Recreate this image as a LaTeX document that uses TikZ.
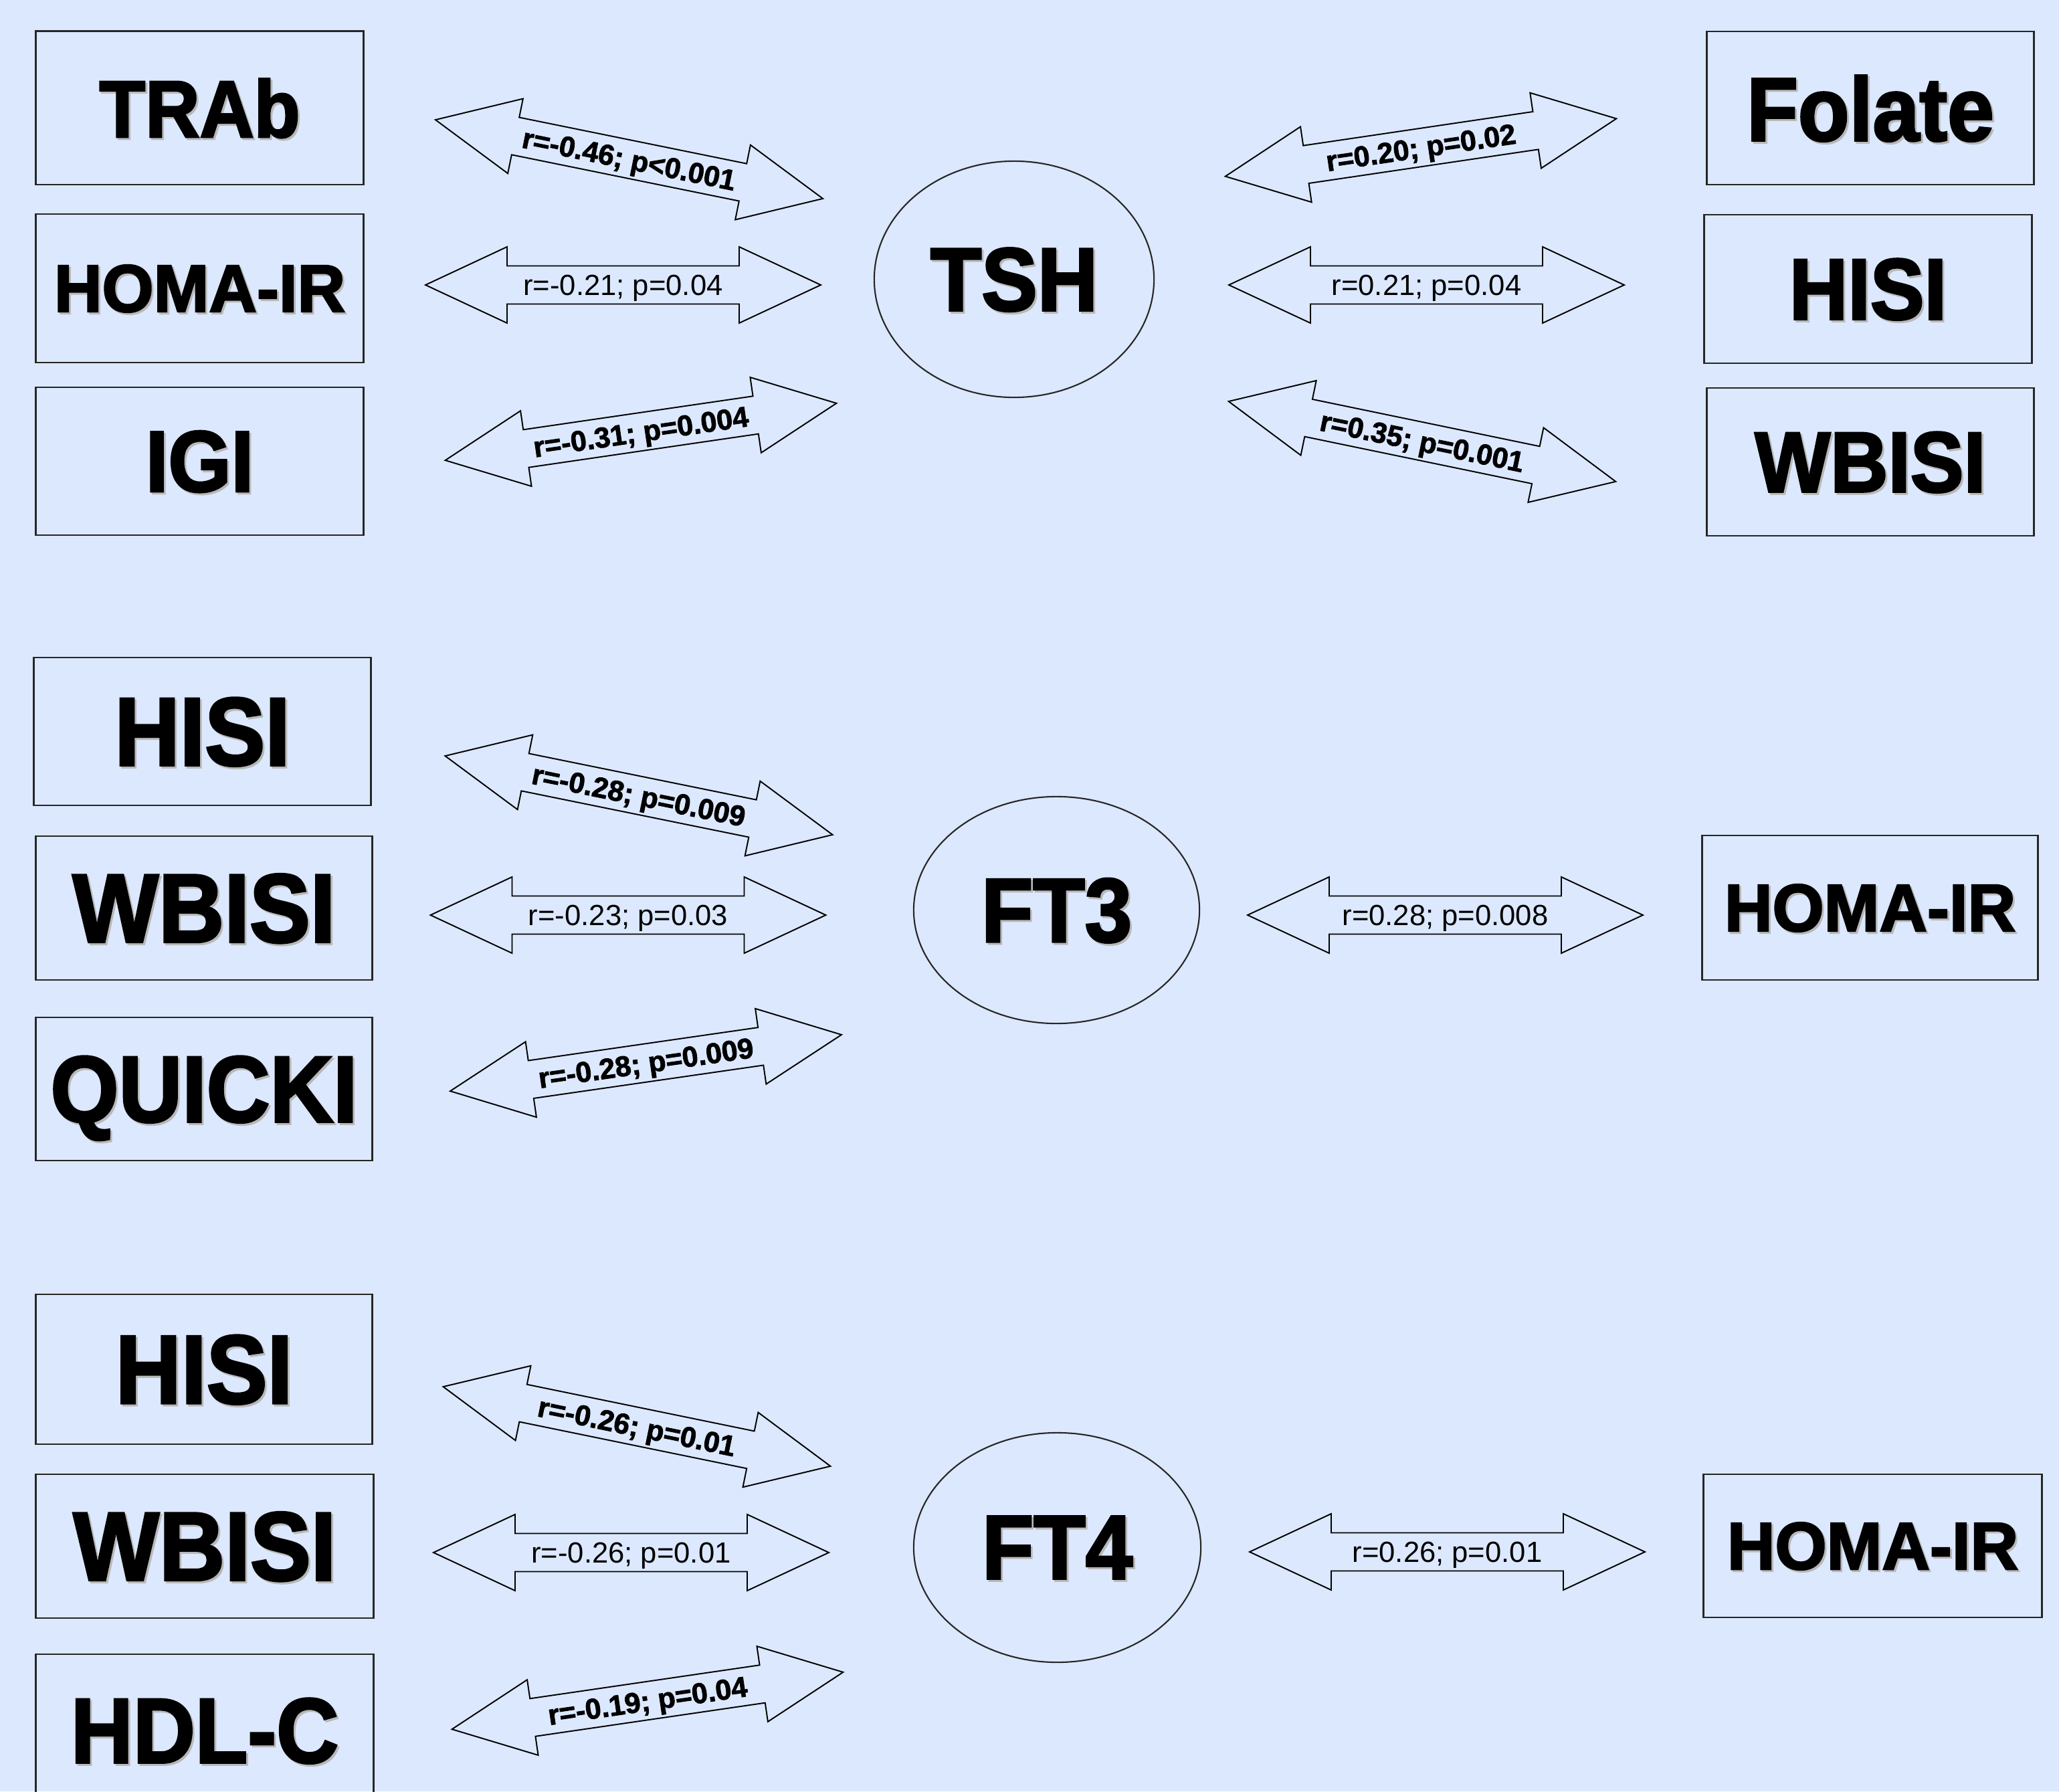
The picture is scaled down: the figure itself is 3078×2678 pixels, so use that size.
\documentclass[tikz,border=0pt]{standalone}
\usepackage{fontspec}
\setmainfont{Liberation Sans}
\newfontfamily\heavy{Liberation Sans Bold}[FakeBold=2.5]
\newfontfamily\semiheavy{Liberation Sans Bold}[FakeBold=2]
\usepackage{graphicx}
\usetikzlibrary{shapes.geometric}
\definecolor{bgc}{RGB}{220,232,253}
\newcommand\shtext[2]{\scalebox{1}[#1]{\makebox[0pt][l]{\kern0.8pt\raisebox{-0.8pt}{\textcolor{black!28}{#2}}}#2}}
\newcommand\dbl[6]{%
  \begin{scope}[shift={(#2,#3)},rotate=#4]
    \draw[arrowline] (-295.5,0) -- (-173.5,57) -- (-173.5,28.5) -- (173.5,28.5) -- (173.5,57)
      -- (295.5,0) -- (173.5,-57) -- (173.5,-28.5) -- (-173.5,-28.5) -- (-173.5,-57) -- cycle;
    \node[#5] (#1) at (0,0) {#6};
  \end{scope}}
\begin{document}
\begin{tikzpicture}[x=0.01cm,y=-0.01cm,
  pbox/.style={draw=black!85, line width=0.8pt, rectangle, inner sep=0pt, text depth=0pt,
    font=\heavy\fontsize{#1}{#1}\selectfont},
  pell/.style={draw=black!85, line width=0.6pt, ellipse, inner sep=0pt, text depth=0pt,
    font=\heavy\fontsize{#1}{#1}\selectfont},
  arrowline/.style={draw=black, line width=0.55pt, line join=miter},
  hlbl/.style={inner sep=0pt, text depth=0pt, font=\fontsize{12.4}{14}\selectfont, transform shape},
  slbl/.style={inner sep=0pt, text depth=0pt, font=\semiheavy\fontsize{12.2}{14}\selectfont, transform shape}]
\useasboundingbox (0,0) rectangle (3078,2678);
\clip (0,0) rectangle (3078,2678);
\fill[bgc] (0,0) rectangle (3078,2678);

% TSH group
\node[pbox=32,   minimum width=4.89cm, minimum height=2.295cm] (trab)   at (298.5,161.25) {\shtext{1.07}{TRAb}};
\node[pbox=28.2, minimum width=4.89cm, minimum height=2.22cm]  (homaA)  at (298.5,431)    {\shtext{1.01}{HOMA-IR}};
\node[pbox=34.4, minimum width=4.89cm, minimum height=2.21cm]  (igi)    at (298.5,689.5)  {\shtext{1.07}{IGI}};
\node[pell=35.6, minimum width=4.18cm, minimum height=3.53cm]  (tsh)    at (1516,417.5)   {\shtext{1.07}{TSH}};
\node[pbox=35.7, minimum width=4.88cm, minimum height=2.29cm]  (folate) at (2796,161.5)   {\shtext{1.07}{Folate}};
\node[pbox=34.4, minimum width=4.89cm, minimum height=2.22cm]  (hisiA)  at (2792.5,432)   {\shtext{1.07}{HISI}};
\node[pbox=34,   minimum width=4.88cm, minimum height=2.21cm]  (wbisiA) at (2796,690.5)   {\shtext{1.07}{WBISI}};

% FT3 group
\node[pbox=38.4, minimum width=5.03cm, minimum height=2.21cm]  (hisiB)  at (302.5,1093.5) {\shtext{1.07}{HISI}};
\node[pbox=38.7, minimum width=5.02cm, minimum height=2.15cm]  (wbisiB) at (305,1357.5)   {\shtext{1.07}{WBISI}};
\node[pbox=37.3, minimum width=5.02cm, minimum height=2.14cm]  (quicki) at (305,1628)     {\shtext{1.07}{QUICKI}};
\node[pell=36,   minimum width=4.27cm, minimum height=3.39cm]  (ft3)    at (1579.5,1360.5){\shtext{1.07}{FT3}};
\node[pbox=28.2, minimum width=5.01cm, minimum height=2.16cm]  (homaB)  at (2795.5,1357)  {\shtext{1.01}{HOMA-IR}};

% FT4 group
\node[pbox=38.7, minimum width=5.02cm, minimum height=2.24cm]  (hisiC)  at (305,2047)     {\shtext{1.07}{HISI}};
\node[pbox=38.7, minimum width=5.04cm, minimum height=2.15cm]  (wbisiC) at (306,2311.5)   {\shtext{1.07}{WBISI}};
\node[pbox=36.6, minimum width=5.04cm, minimum height=2.28cm]  (hdlc)   at (306,2587)     {\shtext{1.07}{HDL-C}};
\node[pell=36,   minimum width=4.29cm, minimum height=3.43cm]  (ft4)    at (1580.5,2313.5){\shtext{1.07}{FT4}};
\node[pbox=28.2, minimum width=5.05cm, minimum height=2.14cm]  (homaC)  at (2799.5,2311)  {\shtext{1.01}{HOMA-IR}};

% block arrows
\dbl{a1}{940.5}{238}{-11.5}{slbl}{r=-0.46; p<0.001}
\dbl{a2}{931.5}{426}{0}{hlbl}{r=-0.21; p=0.04}
\dbl{a3}{958}{645.5}{8.3}{slbl}{r=-0.31; p=0.004}
\dbl{a4}{2124}{220.5}{8.4}{slbl}{r=0.20; p=0.02}
\dbl{a5}{2132.5}{426}{0}{hlbl}{r=0.21; p=0.04}
\dbl{a6}{2126}{660}{-11.7}{slbl}{r=0.35; p=0.001}
\dbl{b1}{955}{1189}{-11.5}{slbl}{r=-0.28; p=0.009}
\dbl{b2}{939}{1368}{0}{hlbl}{r=-0.23; p=0.03}
\dbl{b3}{965.5}{1589}{8.2}{slbl}{r=-0.28; p=0.009}
\dbl{b4}{2160.5}{1368}{0}{hlbl}{r=0.28; p=0.008}
\dbl{c1}{952}{2132.5}{-11.6}{slbl}{r=-0.26; p=0.01}
\dbl{c2}{943.5}{2321}{0}{hlbl}{r=-0.26; p=0.01}
\dbl{c3}{968}{2542.5}{8.3}{slbl}{r=-0.19; p=0.04}
\dbl{c4}{2163.5}{2320}{0}{hlbl}{r=0.26; p=0.01}
\end{tikzpicture}
\end{document}
